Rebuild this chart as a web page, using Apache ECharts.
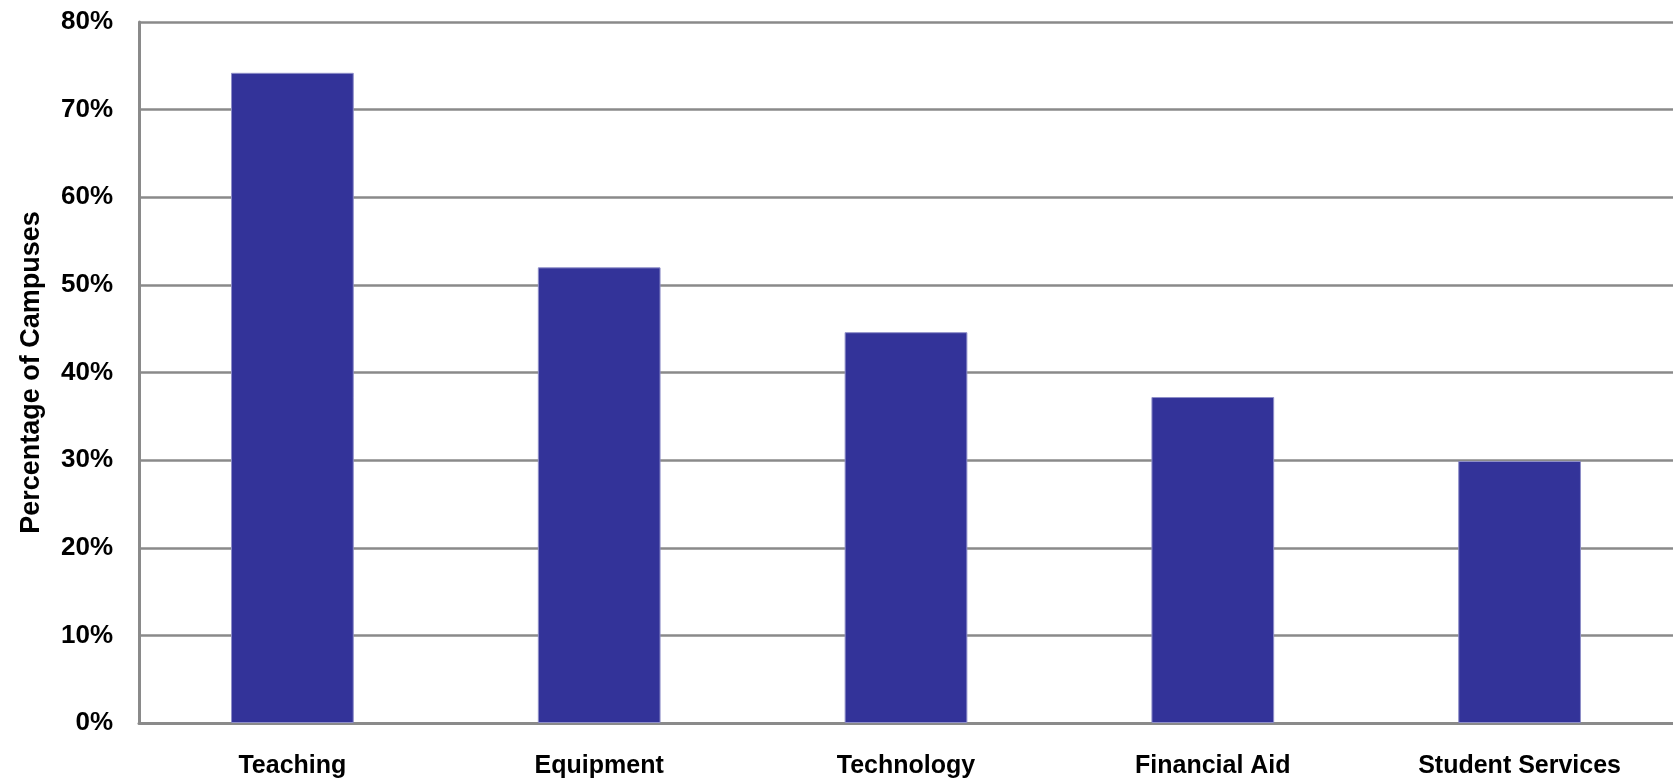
<!DOCTYPE html>
<html>
<head>
<meta charset="utf-8">
<script src="https://cdn.jsdelivr.net/npm/echarts@6/dist/echarts.min.js"></script>
<style>
html,body{margin:0;padding:0;background:#fff;}
#chart{width:1673px;height:781px;}
</style>
</head>
<body>
<div id="chart"></div>
<script>
const categories = ['Teaching', 'Equipment', 'Technology', 'Financial Aid', 'Student Services'];
const values = [74.2, 52.0, 44.6, 37.2, 29.9];
const yTicks = [0, 10, 20, 30, 40, 50, 60, 70, 80];
const yTitle = 'Percentage of Campuses';

const chart = echarts.init(document.getElementById('chart'), null, {renderer: 'canvas'});
const font = '"Liberation Sans", Arial, sans-serif';
chart.setOption({
  animation: false,
  backgroundColor: '#ffffff',
  grid: {left: 139, right: 0, top: 22, bottom: 58, containLabel: false},
  xAxis: {
    type: 'category',
    data: categories,
    axisLine: {show: true, lineStyle: {color: '#8a8a8a', width: 3}},
    axisTick: {show: false},
    axisLabel: {color: '#000', fontFamily: font, fontWeight: 'bold', fontSize: 25, margin: 31}
  },
  yAxis: {
    type: 'value',
    min: yTicks[0],
    max: yTicks[yTicks.length - 1],
    interval: 10,
    name: yTitle,
    nameLocation: 'middle',
    nameGap: 94,
    nameTextStyle: {color: '#000', fontFamily: font, fontWeight: 'bold', fontSize: 27},
    axisLine: {show: true, lineStyle: {color: '#8a8a8a', width: 3}},
    axisTick: {show: false},
    splitLine: {show: true, lineStyle: {color: '#8a8a8a', width: 2.5}},
    axisLabel: {color: '#000', fontFamily: font, fontWeight: 'bold', fontSize: 26, margin: 26,
      formatter: v => v + '%'}
  },
  series: [{
    type: 'bar',
    data: values,
    barCategoryGap: '60%',
    itemStyle: {color: '#333399', borderColor: '#8e8ec8', borderWidth: 1}
  }]
});
</script>
</body>
</html>
